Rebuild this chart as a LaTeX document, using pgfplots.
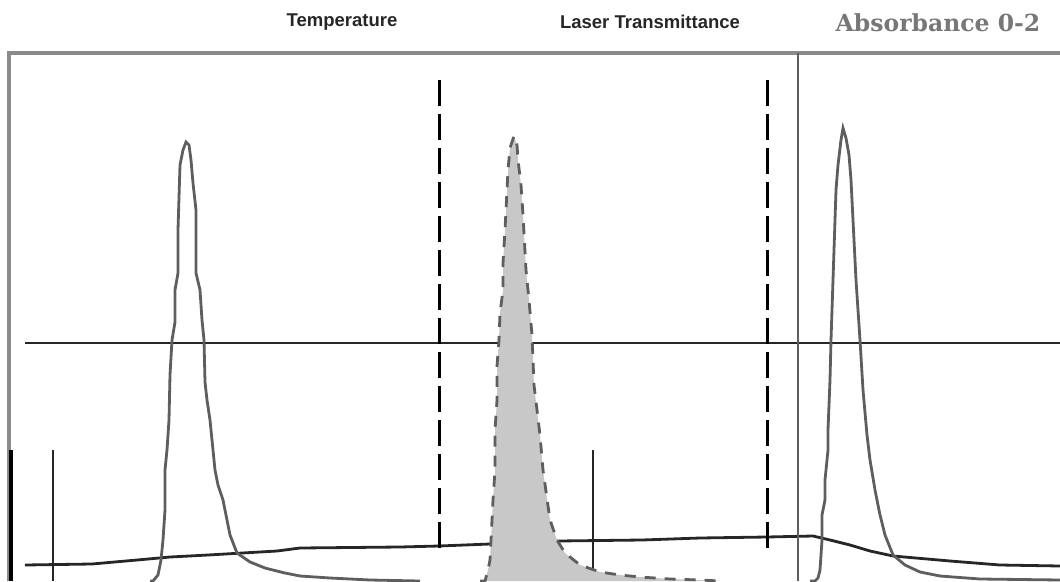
\documentclass[border=0pt]{standalone}
\usepackage{fontspec}
\setmainfont{Liberation Sans}
\newfontfamily\slabfont{DejaVu Serif}
\usepackage{pgfplots}
\pgfplotsset{compat=1.18}
\definecolor{framegray}{HTML}{8A8A8A}
\definecolor{peakgray}{HTML}{5E5E5E}
\definecolor{fillgray}{HTML}{C8C8C8}
\definecolor{darkline}{HTML}{262626}
\definecolor{titlegray}{HTML}{777777}
\begin{document}
\begin{tikzpicture}
\begin{axis}[
  scale only axis, width=1060pt, height=581pt,
  xmin=0, xmax=1060, ymin=0, ymax=581, y dir=reverse,
  hide axis, clip=true, anchor=south west, at={(0pt,0pt)},
]
% frame
\addplot[framegray, line width=4pt, mark=none] coordinates {(9,581)(9,53)(1060,53)};
% horizontal reference line
\addplot[darkline, line width=2.8pt, mark=none] coordinates {(25,343)(1060,343)};
% baseline (temperature trace)
\addplot[darkline, line width=2.8pt, mark=none] coordinates {
(25,565)(92,564)(137,560)(170,557)(208,555)(277,551)(300,548)(400,547)(439,546)(490,544)(558,541)(642,540)(700,538)(767,537)(813,536)(830,540)(850,545)(870,551)(893,556)(950,561)(1000,565)(1060,566)};
% short vertical markers
\addplot[black, line width=3.5pt, mark=none] coordinates {(11,450)(11,581)};
\addplot[darkline, line width=2.8pt, mark=none] coordinates {(53,450)(53,581)};
\addplot[darkline, line width=2.8pt, mark=none] coordinates {(593,450)(593,581)};
% solid gray vertical
\addplot[peakgray, line width=2.5pt, mark=none] coordinates {(798,53)(798,581)};
% dashed verticals
\addplot[black, line width=3pt, dash pattern=on 26pt off 8pt, mark=none] coordinates {(439,80)(439,554)};
\addplot[black, line width=3pt, dash pattern=on 26pt off 8pt, mark=none] coordinates {(767,80)(767,554)};
% left peak
\addplot[peakgray, line width=2.8pt, mark=none] coordinates {
(150,581)(153,581)(158,575)(161,560)(163,540)(165,510)(165,470)(167,450)(169,420)(170,375)(172,340)(175,322)(175,290)(178,273)(178,230)(180,165)(183,150)(186,142)(189,145)(191,160)(193,183)(196,210)(196,273)(200,290)(202,320)(204,340)(205,382)(207,400)(210,420)(213,450)(215,470)(218,485)(223,500)(230,535)(237,553)(250,562)(265,568)(285,573)(300,576)(330,578)(370,580)(420,581)};
% right peak
\addplot[peakgray, line width=2.8pt, mark=none] coordinates {
(810,581)(815,581)(818,578)(820,570)(822,540)(822,515)(825,500)(825,480)(828,450)(828,430)(830,380)(831,340)(833,280)(835,220)(836,190)(838,165)(841,140)(843,128)(846,138)(849,155)(851,180)(853,220)(856,280)(860,340)(863,390)(867,435)(870,460)(875,490)(880,515)(885,535)(893,555)(905,565)(920,572)(940,576)(980,579)(1060,580)};
% middle peak fill
\addplot[fill=fillgray, draw=none, mark=none] coordinates {
(480,581)(485,581)(488,570)(490,560)(493,500)(495,470)(495,430)(497,400)(497,366)(499,340)(500,313)(503,290)(503,263)(505,230)(508,170)(510,148)(514,136)(517,145)(518,160)(521,185)(523,215)(526,270)(529,300)(532,335)(534,385)(537,410)(540,435)(543,470)(550,520)(557,540)(565,553)(580,565)(600,572)(620,575)(640,577)(670,579)(700,580)(720,581)} -- cycle;
% middle peak dashed outline
\addplot[peakgray, line width=2.8pt, dash pattern=on 11pt off 9pt, mark=none] coordinates {
(480,581)(485,581)(488,570)(490,560)(493,500)(495,470)(495,430)(497,400)(497,366)(499,340)(500,313)(503,290)(503,263)(505,230)(508,170)(510,148)(514,136)(517,145)(518,160)(521,185)(523,215)(526,270)(529,300)(532,335)(534,385)(537,410)(540,435)(543,470)(550,520)(557,540)(565,553)(580,565)(600,572)(620,575)(640,577)(670,579)(700,580)(720,581)};
% titles
\node[text=darkline, font=\bfseries\fontsize{18.5}{22}\selectfont, anchor=center] at (axis cs:342,22) {Temperature};
\node[text=darkline, font=\bfseries\fontsize{18.5}{22}\selectfont, anchor=center] at (axis cs:650,22) {Laser Transmittance};
\node[text=titlegray, font=\slabfont\bfseries\fontsize{23.5}{27}\selectfont, anchor=center] at (axis cs:938,23) {Absorbance 0-2};
\end{axis}
\pgfresetboundingbox
\path (0pt,0pt) rectangle (1060pt,581pt);
\end{tikzpicture}
\end{document}
